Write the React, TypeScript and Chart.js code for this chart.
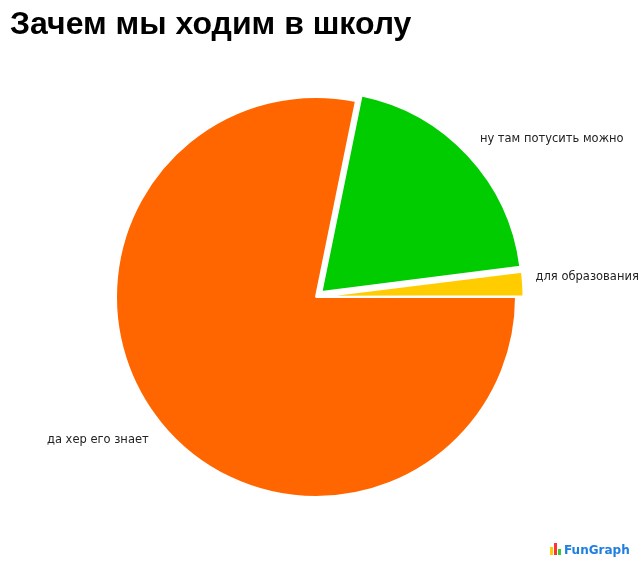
import React, { useEffect, useRef } from "react";
import { Chart, registerables } from "chart.js";

Chart.register(...registerables);

const title = "Зачем мы ходим в школу";
const categories = ["да хер его знает", "ну там потусить можно", "для образования"];
const values = [78.2, 19.8, 2];
const colors = ["#FF6600", "#00CC00", "#FFCC00"];
// Chart.js draws offset/4 pixels (plus radial growth for thin slices)
const offsets = [0, 30, 16];

const overlayPlugin = {
  id: "overlay",
  afterDatasetsDraw(chart: any) {
    const ctx = chart.ctx;
    const meta = chart.getDatasetMeta(0);
    ctx.save();
    ctx.font = '11.5px "DejaVu Sans"';
    ctx.fillStyle = "#222";
    ctx.textBaseline = "middle";
    meta.data.forEach((arc: any, i: number) => {
      const mid = (arc.startAngle + arc.endAngle) / 2;
      const off = (offsets[i] || 0) / 4;
      const r = arc.outerRadius + off + 16;
      const s = Math.sin(mid);
      const x = arc.x + Math.cos(mid) * r;
      const y = arc.y + s * r + (s < 0 ? -6 : 6);
      ctx.textAlign = Math.cos(mid) >= 0 ? "left" : "right";
      ctx.fillText(categories[i], x, y);
    });
    // title
    ctx.font = 'bold 32px "Liberation Sans", Arial, sans-serif';
    ctx.fillStyle = "#000";
    ctx.textAlign = "left";
    ctx.textBaseline = "alphabetic";
    ctx.fillText(title, 10, 34);
    // logo
    const bx = 550;
    const by = 555;
    const bars = [
      { c: "#FFCC00", h: 8 },
      { c: "#FF3333", h: 12 },
      { c: "#33CC33", h: 6 },
    ];
    bars.forEach((b, k) => {
      ctx.fillStyle = b.c;
      ctx.fillRect(bx + k * 4, by - b.h, 3, b.h);
    });
    ctx.font = 'bold 12px "DejaVu Sans", sans-serif';
    ctx.fillStyle = "#1E7FE0";
    ctx.fillText("FunGraph", 564, 554);
    ctx.restore();
  },
};

export default function App() {
  const ref = useRef<HTMLCanvasElement | null>(null);
  useEffect(() => {
    if (!ref.current) return;
    const chart = new Chart(ref.current, {
      type: "pie",
      data: {
        labels: categories,
        datasets: [
          {
            data: values,
            backgroundColor: colors,
            borderColor: "#FFFFFF",
            borderWidth: 2,
            offset: offsets,
            hoverOffset: 0,
          },
        ],
      },
      options: {
        responsive: false,
        animation: false,
        rotation: 90,
        layout: { padding: { left: 100, right: 108, top: 81, bottom: 52 } },
        plugins: {
          legend: { display: false },
          tooltip: { enabled: false },
          title: { display: false },
        },
      },
      plugins: [overlayPlugin],
    });
    return () => chart.destroy();
  }, []);
  return (
    <div style={{ position: "absolute", left: 0, top: 0, width: 640, height: 565, background: "#fff" }}>
      <canvas ref={ref} width={640} height={565} style={{ width: 640, height: 565 }} />
    </div>
  );
}
